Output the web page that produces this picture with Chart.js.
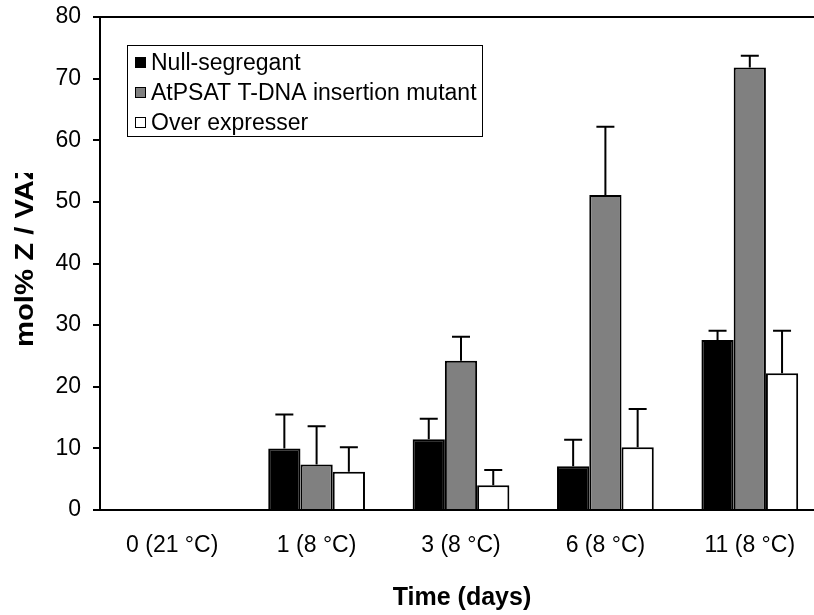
<!DOCTYPE html>
<html>
<head>
<meta charset="utf-8">
<script src="https://cdn.jsdelivr.net/npm/chart.js@4.4.1/dist/chart.umd.min.js"></script>
<style>
  html, body { margin: 0; padding: 0; background: #fff; overflow: hidden; }
  #wrap { width: 830px; height: 615px; }
</style>
</head>
<body>
<div id="wrap"><canvas id="chart" width="830" height="615"></canvas></div>
<script>
const categories = ["0 (21 °C)", "1 (8 °C)", "3 (8 °C)", "6 (8 °C)", "11 (8 °C)"];

const nullSegregant = [0, 10.0, 11.5, 7.1, 27.6];
const nullSegregantErr = [0, 5.5, 3.3, 4.3, 1.5];

const mutant = [0, 7.4, 24.2, 51.1, 71.8];
const mutantErr = [0, 6.2, 3.9, 11.1, 1.9];

const overExpresser = [0, 6.2, 4.0, 10.2, 22.2];
const overExpresserErr = [0, 4.0, 2.5, 6.2, 6.9];

const yTicks = [0, 10, 20, 30, 40, 50, 60, 70, 80];

const FONT = "'Liberation Sans', Arial, sans-serif";

// error bars, upper side only
const errorBars = {
  id: "errorBars",
  afterDatasetsDraw(chart) {
    const ctx = chart.ctx;
    const y = chart.scales.y;
    ctx.save();
    ctx.strokeStyle = "#000";
    ctx.lineWidth = 2;
    chart.data.datasets.forEach((ds, i) => {
      const meta = chart.getDatasetMeta(i);
      meta.data.forEach((bar, j) => {
        const err = ds.errors[j];
        if (!err) return;
        const top = y.getPixelForValue(ds.data[j] + err);
        ctx.beginPath();
        ctx.moveTo(bar.x, bar.y);
        ctx.lineTo(bar.x, top);
        ctx.moveTo(bar.x - 9, top);
        ctx.lineTo(bar.x + 9, top);
        ctx.stroke();
      });
    });
    ctx.restore();
  }
};

// frame, legend box and axis titles
const decorations = {
  id: "decorations",
  afterDraw(chart) {
    const ctx = chart.ctx;
    const a = chart.chartArea;
    ctx.save();
    ctx.strokeStyle = "#000";
    ctx.lineWidth = 2;
    ctx.beginPath();
    ctx.moveTo(a.left, a.top);
    ctx.lineTo(a.right, a.top);
    ctx.lineTo(a.right, a.bottom);
    ctx.stroke();

    // legend
    ctx.lineWidth = 1;
    ctx.fillStyle = "#fff";
    ctx.fillRect(127.5, 45.5, 355, 91);
    ctx.strokeRect(127.5, 45.5, 355, 91);
    ctx.font = "23px " + FONT;
    ctx.textBaseline = "middle";
    chart.data.datasets.forEach((ds, i) => {
      const cy = 63 + i * 30;
      ctx.fillStyle = ds.backgroundColor;
      ctx.fillRect(135.5, cy - 5.5, 10, 10);
      ctx.strokeRect(135.5, cy - 5.5, 10, 10);
      ctx.fillStyle = "#000";
      ctx.fillText(ds.label, 151, cy + 1);
    });

    // x title
    ctx.font = "bold 25px " + FONT;
    ctx.textAlign = "center";
    ctx.fillText("Time (days)", 462, 598);

    // y title, clipped at the top like the original
    ctx.beginPath();
    ctx.rect(0, 173, 90, 442);
    ctx.clip();
    ctx.translate(33, 347);
    ctx.rotate(-Math.PI / 2);
    ctx.scale(1.17, 1);
    ctx.textAlign = "left";
    ctx.textBaseline = "alphabetic";
    ctx.fillText("mol% Z / VAZ", 0, 0);
    ctx.restore();
  }
};

new Chart(document.getElementById("chart"), {
  type: "bar",
  data: {
    labels: categories,
    datasets: [
      { label: "Null-segregant", data: nullSegregant, errors: nullSegregantErr,
        backgroundColor: "#000000", borderColor: "#000", borderWidth: 2 },
      { label: "AtPSAT T-DNA insertion mutant", data: mutant, errors: mutantErr,
        backgroundColor: "#808080", borderColor: "#000", borderWidth: 2 },
      { label: "Over expresser", data: overExpresser, errors: overExpresserErr,
        backgroundColor: "#ffffff", borderColor: "#000", borderWidth: 2 }
    ]
  },
  options: {
    responsive: false,
    animation: false,
    categoryPercentage: 0.67,
    barPercentage: 1.0,
    layout: { padding: { left: 0, top: 17, right: 8, bottom: 0 } },
    plugins: { legend: { display: false }, tooltip: { enabled: false } },
    scales: {
      x: {
        afterFit: s => { s.height = 105; s.paddingLeft = 0; s.paddingRight = 0; },
        grid: { display: false, drawTicks: false },
        border: { display: true, color: "#000", width: 2 },
        ticks: { color: "#000", padding: 22, maxRotation: 0, font: { family: FONT, size: 23 } }
      },
      y: {
        min: 0,
        max: 80,
        afterFit: s => { s.width = 100; s.paddingTop = 0; s.paddingBottom = 0; },
        afterBuildTicks: s => { s.ticks = yTicks.map(v => ({ value: v })); },
        grid: { drawOnChartArea: false, drawTicks: true, tickLength: 7, color: "#000", lineWidth: 2 },
        border: { display: true, color: "#000", width: 2 },
        ticks: { color: "#000", padding: 12, font: { family: FONT, size: 23 } }
      }
    }
  },
  plugins: [errorBars, decorations]
});
</script>
</body>
</html>
